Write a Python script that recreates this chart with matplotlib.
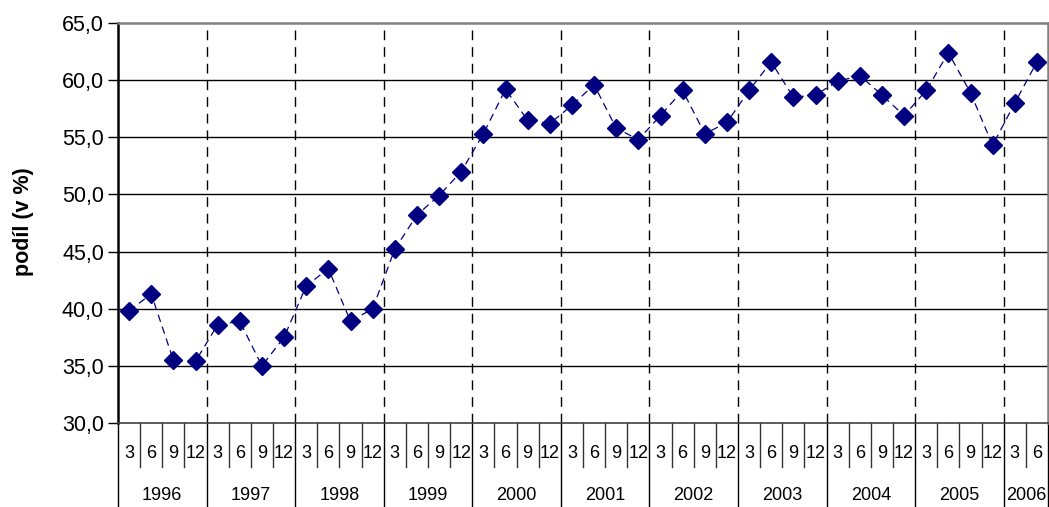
import matplotlib
matplotlib.use("Agg")
import matplotlib.pyplot as plt
import matplotlib.transforms as mtransforms

plt.rcParams['font.family'] = ['Liberation Sans', 'DejaVu Sans']

years = ['1996', '1997', '1998', '1999', '2000', '2001', '2002', '2003', '2004', '2005', '2006']
quarters_per_year = [4, 4, 4, 4, 4, 4, 4, 4, 4, 4, 2]
quarter_labels = ['3', '6', '9', '12']
values = [
    39.8, 41.3, 35.5, 35.4,
    38.6, 38.9, 35.0, 37.5,
    42.0, 43.5, 38.9, 40.0,
    45.2, 48.2, 49.9, 52.0,
    55.3, 59.2, 56.5, 56.2,
    57.8, 59.6, 55.8, 54.8,
    56.9, 59.1, 55.3, 56.3,
    59.1, 61.6, 58.5, 58.7,
    59.9, 60.4, 58.7, 56.9,
    59.1, 62.4, 58.9, 54.3,
    58.0, 61.6,
]
y_ticks = [30, 35, 40, 45, 50, 55, 60, 65]
y_label = 'podíl (v %)'

fig = plt.figure(figsize=(10.49, 5.07), dpi=100)
ax = fig.add_axes([118/1049, 1 - 423/507, 930/1049, 400/507])

n = len(values)
xs = list(range(n))
ax.plot(xs, values, color='#000080', lw=0.9, ls=(0, (6, 4)), marker='D', ms=9,
        mfc='#000080', mec='#000080', zorder=5, clip_on=False)

ax.set_xlim(-0.5, n - 0.5)
ax.set_ylim(y_ticks[0], y_ticks[-1])
ax.set_yticks(y_ticks)
ax.set_yticklabels([f"{t:.1f}".replace('.', ',') for t in y_ticks], fontsize=15.5)
ax.tick_params(axis='y', direction='out', length=7, width=1, color='black', pad=3)
ax.set_xticks([])

for t in y_ticks[1:-1]:
    ax.axhline(t, color='black', lw=1.0, zorder=1)

for s in ['top', 'right']:
    ax.spines[s].set_color('#808080')
    ax.spines[s].set_linewidth(1.8)
ax.spines['bottom'].set_color('#404040')
ax.spines['bottom'].set_linewidth(1.2)
ax.spines['left'].set_color('black')
ax.spines['left'].set_linewidth(1.8)

fig.text(23/1049, 1 - 222/507, y_label, rotation=90, ha='center', va='center',
         fontsize=15.5, fontweight='bold')

trans = mtransforms.blended_transform_factory(ax.transData, ax.transAxes)
q_bottom = -44/400
y_bottom = -84/400
q_text_y = -30/400
yr_text_y = -72/400

pos = 0
boundaries = [-0.5]
for yi, (yr, nq) in enumerate(zip(years, quarters_per_year)):
    for qi in range(nq):
        x = pos + qi
        ax.text(x, q_text_y, quarter_labels[qi], transform=trans,
                ha='center', va='center', fontsize=13)
        if qi < nq - 1:
            ax.plot([x + 0.5, x + 0.5], [0, q_bottom], transform=trans,
                    color='#333333', lw=1.0, clip_on=False)
    center = pos + (nq - 1) / 2
    ax.text(center, yr_text_y, yr, transform=trans,
            ha='center', va='center', fontsize=13)
    pos += nq
    boundaries.append(pos - 0.5)

for b in boundaries:
    ax.plot([b, b], [0, y_bottom], transform=trans, color='black', lw=1.0, clip_on=False)
for b in boundaries[1:-1]:
    ax.plot([b, b], [0, 1], transform=trans, color='black', lw=1.0,
            ls=(0, (7, 5)), zorder=2)

fig.savefig('out.png', dpi=100)
